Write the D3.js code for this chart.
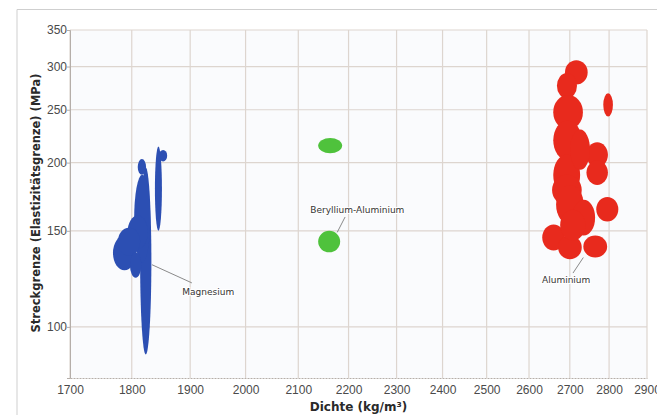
<!DOCTYPE html>
<html>
<head>
<meta charset="utf-8">
<script src="https://cdn.jsdelivr.net/npm/d3@7/dist/d3.min.js"></script>
<style>
  body { margin: 0; background: #fff; }
  svg { display: block; font-family: 'DejaVu Sans', sans-serif; }
  .tick text { fill: #4a4a4a; font-size: 12px; }
  .grid line { stroke: #ddd5cf; stroke-width: 1.2; }
  .title { font-weight: bold; fill: #2a2a2a; }
  .mat-label { font-size: 9px; fill: #333; paint-order: stroke; stroke: #fff; stroke-width: 2px; }
</style>
</head>
<body>
<svg width="657" height="415"></svg>
<script>
// tick values (log-log chart)
const xTicks = [1700, 1800, 1900, 2000, 2100, 2200, 2300, 2400, 2500, 2600, 2700, 2800, 2900]
const yTicks = [100, 150, 200, 250, 300, 350]

// each record: [density min, density max, strength min, strength max]
const magnesium = [
  [1839, 1851, 150, 214],
  [1846, 1860, 201, 211],
  [1814, 1833, 89, 196],
  [1804, 1831, 131, 190],
  [1810, 1824, 190, 203],
  [1793, 1827, 139, 160],
  [1769, 1807, 127, 147],
  [1777, 1814, 135, 152],
  [1797, 1816, 123, 137]
]

const berylliumAluminium = [
  [2139, 2187, 208, 222],
  [2139, 2183, 137, 150]
]

const aluminium = [
  [2688, 2745, 278, 308],
  [2668, 2718, 262, 292],
  [2659, 2733, 230, 266],
  [2659, 2730, 202, 239],
  [2785, 2810, 243, 268],
  [2742, 2797, 196, 218],
  [2742, 2797, 182, 202],
  [2659, 2726, 174, 207],
  [2656, 2730, 167, 190],
  [2666, 2735, 154, 182],
  [2706, 2764, 147, 171],
  [2767, 2824, 156, 173],
  [2632, 2688, 138, 154],
  [2671, 2730, 133, 147],
  [2734, 2795, 134, 147],
  [2676, 2739, 144, 164],
  [2701, 2751, 194, 230]
]

const families = [
  {name: 'Magnesium', data: magnesium, fill: '#2c4fb3'},
  {name: 'Beryllium-Aluminium', data: berylliumAluminium, fill: '#4fc23c'},
  {name: 'Aluminium', data: aluminium, fill: '#e82a1d'}
]

// label text position and leader line, in [density, strength]
const labels = [
  {text: 'Magnesium', at: [1932, 116], from: [1903, 120.4], to: [1834, 130]},
  {text: 'Beryllium-Aluminium', at: [2218, 164], from: [2193, 159], to: [2177, 149]},
  {text: 'Aluminium', at: [2691, 122], from: [2708, 125.5], to: [2734, 134]}
]

const svg = d3.select('svg')
const margin = {top: 30, right: 10, bottom: 37, left: 70}
const width = 657 - margin.left - margin.right
const height = 415 - margin.top - margin.bottom

const x = d3.scaleLog().domain([1700, 2900]).range([0, width])
const y = d3.scaleLog().domain([80.6, 350]).range([height, 0])

// outer frame
svg.append('path')
.attr('d', 'M17,415 V9.5 H657')
.attr('fill', 'none')
.attr('stroke', '#cfcfcf')

const g = svg.append('g')
.attr('transform', `translate(${margin.left}, ${margin.top})`)

g.append('rect')
.attr('width', width)
.attr('height', height)
.attr('fill', '#fafbfd')

// grid
g.append('g')
.attr('class', 'grid')
.selectAll('line')
.data(xTicks)
.join('line')
.attr('x1', d => x(d)).attr('x2', d => x(d))
.attr('y1', 0).attr('y2', height)

g.append('g')
.attr('class', 'grid')
.selectAll('line')
.data(yTicks)
.join('line')
.attr('x1', 0).attr('x2', width)
.attr('y1', d => y(d)).attr('y2', d => y(d))

// axes
const xAxis = g.append('g')
.attr('transform', `translate(0, ${height})`)
.call(d3.axisBottom(x).tickValues(xTicks).tickFormat(d3.format('d')).tickSize(0).tickPadding(7))

const yAxis = g.append('g')
.call(d3.axisLeft(y).tickValues(yTicks).tickFormat(d3.format('d')).tickSize(3).tickPadding(0))

xAxis.select('.domain').attr('stroke', '#b5aea9').attr('stroke-dasharray', '2,1')
yAxis.select('.domain').attr('stroke', '#b5aea9')
yAxis.selectAll('.tick line').attr('stroke', '#b5aea9')

// axis titles
svg.append('text')
.attr('class', 'title')
.attr('x', margin.left + width / 2)
.attr('y', 411)
.attr('text-anchor', 'middle')
.attr('font-size', 12)
.text('Dichte (kg/m³)')

svg.append('text')
.attr('class', 'title')
.attr('transform', 'translate(40, 203) rotate(-90)')
.attr('text-anchor', 'middle')
.attr('font-size', 11.5)
.text('Streckgrenze (Elastizitätsgrenze) (MPa)')

// material bubbles
families.forEach(f => {
  g.append('g')
  .selectAll('ellipse')
  .data(f.data)
  .join('ellipse')
  .attr('cx', d => (x(d[0]) + x(d[1])) / 2)
  .attr('cy', d => (y(d[2]) + y(d[3])) / 2)
  .attr('rx', d => (x(d[1]) - x(d[0])) / 2)
  .attr('ry', d => (y(d[2]) - y(d[3])) / 2)
  .attr('fill', f.fill)
})

// labels with leader lines
const lab = g.append('g')
.selectAll('g')
.data(labels)
.join('g')

lab.append('line')
.attr('x1', d => x(d.from[0]))
.attr('y1', d => y(d.from[1]))
.attr('x2', d => x(d.to[0]))
.attr('y2', d => y(d.to[1]))
.attr('stroke', '#8a8a8a')

lab.append('text')
.attr('class', 'mat-label')
.attr('x', d => x(d.at[0]))
.attr('y', d => y(d.at[1]) + 3)
.attr('text-anchor', 'middle')
.text(d => d.text)
</script>
</body>
</html>
